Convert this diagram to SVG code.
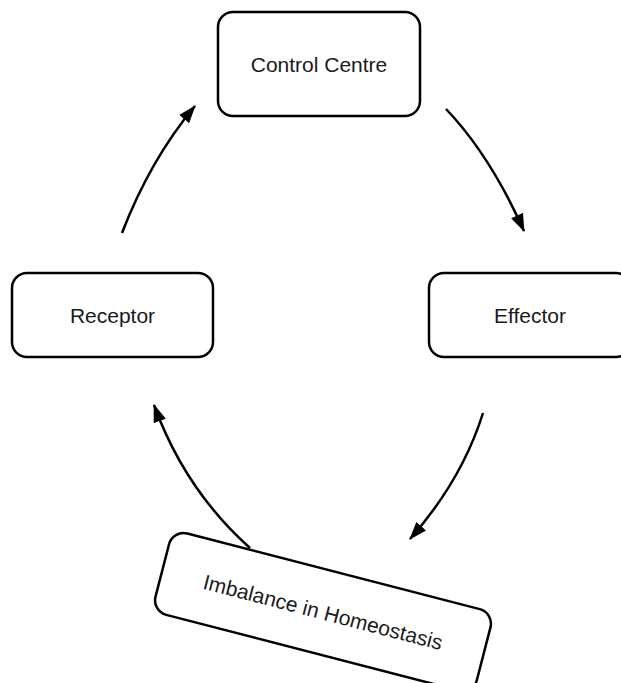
<svg xmlns="http://www.w3.org/2000/svg" width="621" height="683" viewBox="0 0 621 683">
  <style>
    .box { fill: #ffffff; stroke: #000000; stroke-width: 2.5; }
    .label { font-family: "Liberation Sans", Arial, Helvetica, sans-serif; font-size: 21px; fill: #1a1a1a; text-anchor: middle; }
    .link { fill: none; stroke: #000000; stroke-width: 2.5; marker-end: url(#head); }
  </style>
  <defs>
    <marker id="head" viewBox="0 0 18 13" refX="17" refY="6.5" markerWidth="18" markerHeight="13" markerUnits="userSpaceOnUse" orient="auto">
      <path d="M0,0 L18,6.5 L0,13 Z" fill="#000000"/>
    </marker>
  </defs>
  <rect width="621" height="683" fill="#ffffff"/>

  <g id="control-centre">
    <rect class="box" x="218" y="12" width="202" height="104" rx="15" ry="15"/>
    <text class="label" x="319" y="72">Control Centre</text>
  </g>

  <g id="receptor">
    <rect class="box" x="12" y="273" width="201" height="84" rx="15" ry="15"/>
    <text class="label" x="112.5" y="323">Receptor</text>
  </g>

  <g id="effector">
    <rect class="box" x="429" y="273" width="202" height="84" rx="15" ry="15"/>
    <text class="label" x="530" y="323">Effector</text>
  </g>

  <g id="imbalance" transform="translate(323,612) rotate(14.5)">
    <rect class="box" x="-166" y="-42" width="332" height="84" rx="15" ry="15"/>
    <text class="label" x="0" y="7.5">Imbalance in Homeostasis</text>
  </g>

  <g id="connectors">
    <path class="link" d="M446,109 Q490,155 524,231"/>
    <path class="link" d="M483,413 Q462,480 410,539"/>
    <path class="link" d="M250,548 Q185,490 154,405"/>
    <path class="link" d="M122,233 Q150,160 195,106"/>
  </g>
</svg>
